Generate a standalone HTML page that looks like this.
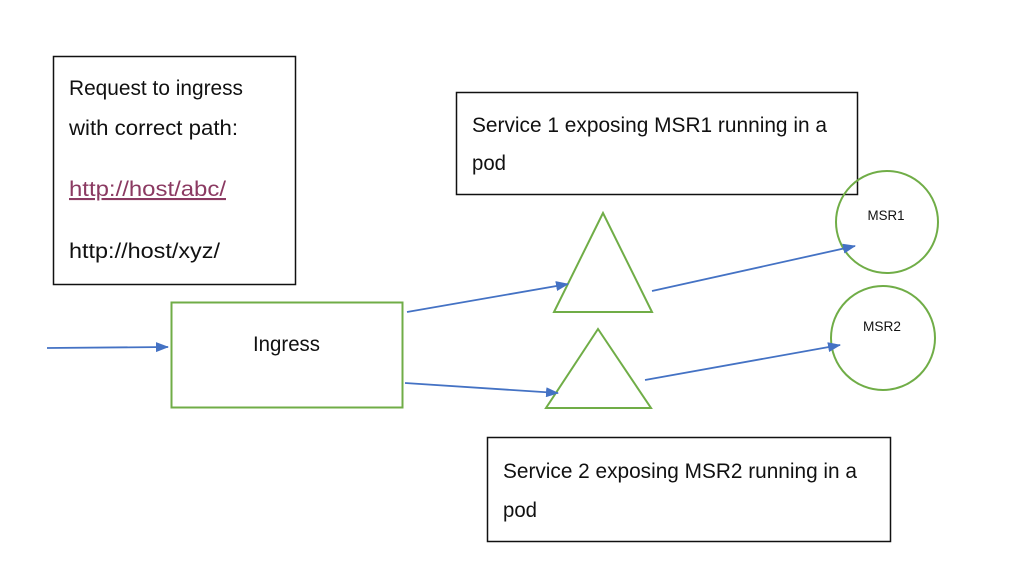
<!DOCTYPE html>
<html><head><style>
body{margin:0;width:1024px;height:576px;background:#fff;overflow:hidden;}
svg text{font-family:"Liberation Sans Narrow","Liberation Sans",sans-serif;}
</style></head><body>
<svg width="1024" height="576" xmlns="http://www.w3.org/2000/svg">
<defs><marker id="a" markerWidth="13" markerHeight="10" refX="12" refY="5" orient="auto" markerUnits="userSpaceOnUse"><path d="M0,0 L13,5 L0,10 z" fill="#4472C4"/></marker></defs>
<rect x="53.5" y="56.5" width="242" height="228" fill="none" stroke="#111" stroke-width="1.5"/>
<text x="69" y="95" font-size="21" fill="#111" textLength="174" lengthAdjust="spacingAndGlyphs">Request to ingress</text>
<text x="69" y="135" font-size="21" fill="#111" textLength="169" lengthAdjust="spacingAndGlyphs">with correct path:</text>
<text x="69" y="196" font-size="21" fill="#8B3A62" text-decoration="underline" textLength="157" lengthAdjust="spacingAndGlyphs">http://host/abc/</text>
<text x="69" y="258" font-size="21" fill="#111" textLength="151" lengthAdjust="spacingAndGlyphs">http://host/xyz/</text>
<rect x="171.5" y="302.5" width="231" height="105" fill="none" stroke="#70AD47" stroke-width="2"/>
<text x="253" y="351" font-size="21" fill="#111" textLength="67" lengthAdjust="spacingAndGlyphs">Ingress</text>
<line x1="47" y1="348" x2="168" y2="347" stroke="#4472C4" stroke-width="1.8" marker-end="url(#a)"/>
<rect x="456.5" y="92.5" width="401" height="102" fill="none" stroke="#111" stroke-width="1.5"/>
<text x="472" y="132" font-size="21" fill="#111" textLength="355" lengthAdjust="spacingAndGlyphs">Service 1 exposing MSR1 running in a</text>
<text x="472" y="170" font-size="21" fill="#111" textLength="34" lengthAdjust="spacingAndGlyphs">pod</text>
<rect x="487.5" y="437.5" width="403" height="104" fill="none" stroke="#111" stroke-width="1.5"/>
<text x="503" y="478" font-size="21" fill="#111" textLength="354" lengthAdjust="spacingAndGlyphs">Service 2 exposing MSR2 running in a</text>
<text x="503" y="517" font-size="21" fill="#111" textLength="34" lengthAdjust="spacingAndGlyphs">pod</text>
<polygon points="603,213 554,312 652,312" fill="none" stroke="#70AD47" stroke-width="2"/>
<polygon points="598,329 546,408 651,408" fill="none" stroke="#70AD47" stroke-width="2"/>
<circle cx="887" cy="222" r="51" fill="none" stroke="#70AD47" stroke-width="2"/>
<circle cx="883" cy="338" r="52" fill="none" stroke="#70AD47" stroke-width="2"/>
<text x="886" y="220" font-size="14" text-anchor="middle" fill="#111" textLength="37" lengthAdjust="spacingAndGlyphs">MSR1</text>
<text x="882" y="331" font-size="14" text-anchor="middle" fill="#111" textLength="38" lengthAdjust="spacingAndGlyphs">MSR2</text>
<line x1="407" y1="312" x2="568" y2="284" stroke="#4472C4" stroke-width="1.8" marker-end="url(#a)"/>
<line x1="652" y1="291" x2="855" y2="246" stroke="#4472C4" stroke-width="1.8" marker-end="url(#a)"/>
<line x1="405" y1="383" x2="558" y2="393" stroke="#4472C4" stroke-width="1.8" marker-end="url(#a)"/>
<line x1="645" y1="380" x2="840" y2="345" stroke="#4472C4" stroke-width="1.8" marker-end="url(#a)"/>
</svg>
</body></html>
